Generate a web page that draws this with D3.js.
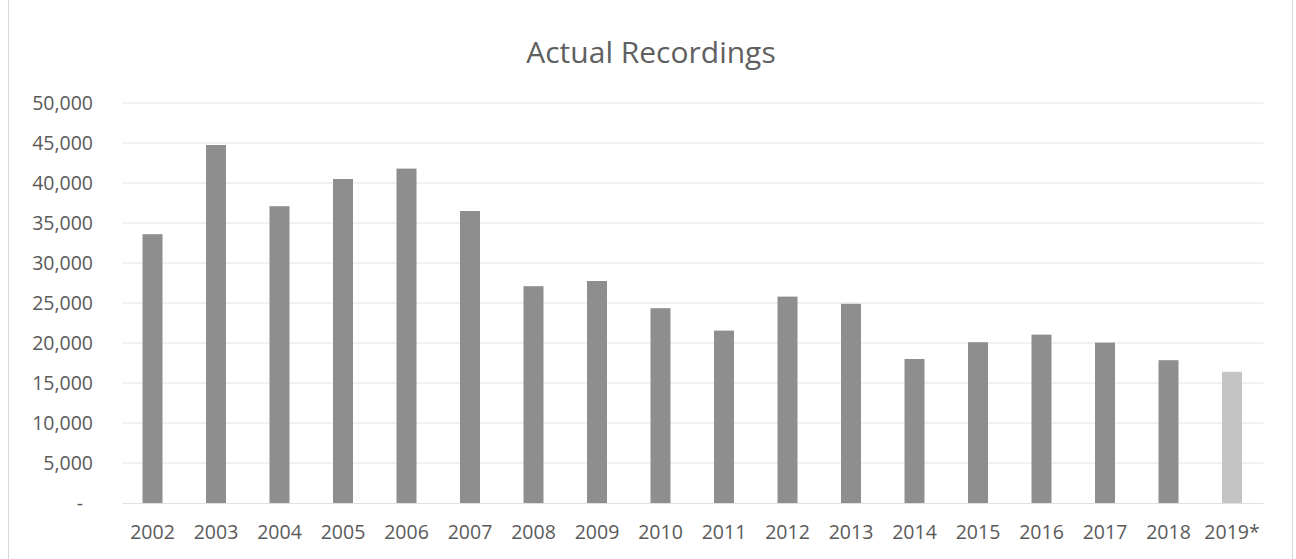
<!DOCTYPE html>
<html>
<head>
<meta charset="utf-8">
<script src="https://cdn.jsdelivr.net/npm/d3@7"></script>
<style>
  html, body { margin: 0; padding: 0; background: #fff; }
  svg { display: block; font-family: "Open Sans", sans-serif; }
</style>
</head>
<body>
<svg id="chart" width="1296" height="559"></svg>
<script>
const title = "Actual Recordings";
const years = ["2002","2003","2004","2005","2006","2007","2008","2009","2010","2011","2012","2013","2014","2015","2016","2017","2018","2019*"];
const recordings = [33600, 44750, 37100, 40500, 41800, 36500, 27100, 27750, 24350, 21550, 25800, 24900, 18000, 20100, 21050, 20050, 17850, 16400];
const yTicks = [0, 5000, 10000, 15000, 20000, 25000, 30000, 35000, 40000, 45000, 50000];

const svg = d3.select("#chart");
const W = 1296, H = 559;
const plot = { left: 120.75, right: 1263.75, top: 103, bottom: 503 };

// chart frame
svg.append("rect").attr("x", 8.5).attr("y", -2).attr("width", 1284).attr("height", H + 4)
  .attr("fill", "#fff").attr("stroke", "#d9d9d9").attr("stroke-width", 1);

const x = d3.scaleBand().domain(years).range([plot.left, plot.right])
  .paddingInner(0.685).paddingOuter(0.3425);
const y = d3.scaleLinear().domain([0, 50000]).range([plot.bottom, plot.top]);

// gridlines
svg.append("g").selectAll("line").data(yTicks.filter(d => d > 0)).join("line")
  .attr("x1", plot.left + 2).attr("x2", plot.right)
  .attr("y1", d => y(d)).attr("y2", d => y(d))
  .attr("stroke", "#e4e4e4").attr("stroke-width", 1.2);

// y axis labels
const fmt = d3.format(",");
const yAxis = d3.axisLeft(y).tickValues(yTicks).tickSize(0).tickPadding(0)
  .tickFormat(d => d === 0 ? "-" : fmt(d));
const gy = svg.append("g").attr("transform", `translate(${93},0)`).call(yAxis);
gy.select(".domain").remove();
gy.selectAll("text").attr("font-size", 19.5).attr("fill", "#5a5a5a")
  .attr("font-family", "'Open Sans', sans-serif")
  .attr("dy", "0.35em");
gy.selectAll(".tick").filter(d => d === 0).select("text").attr("dx", -10);

// bars
svg.append("g").selectAll("rect").data(recordings).join("rect")
  .attr("x", (d, i) => x(years[i]))
  .attr("width", x.bandwidth())
  .attr("y", d => y(d))
  .attr("height", d => y(0) - y(d))
  .attr("fill", (d, i) => years[i].endsWith("*") ? "#c4c4c4" : "#8e8e8e");

// baseline
svg.append("line").attr("x1", plot.left + 2).attr("x2", plot.right)
  .attr("y1", y(0) + 0.5).attr("y2", y(0) + 0.5)
  .attr("stroke", "#e0e0e0").attr("stroke-width", 1.2);

// x axis labels
const xAxis = d3.axisBottom(x).tickSize(0).tickPadding(0);
const gx = svg.append("g").attr("transform", `translate(0,${532})`).call(xAxis);
gx.select(".domain").remove();
gx.selectAll("text").attr("font-size", 19.5).attr("fill", "#5a5a5a")
  .attr("font-family", "'Open Sans', sans-serif")
  .attr("dy", "0.35em");

// title
svg.append("text").attr("x", 651).attr("y", 52).attr("dy", "0.35em")
  .attr("text-anchor", "middle").attr("font-size", 30).attr("fill", "#606060")
  .text(title);
</script>
</body>
</html>
